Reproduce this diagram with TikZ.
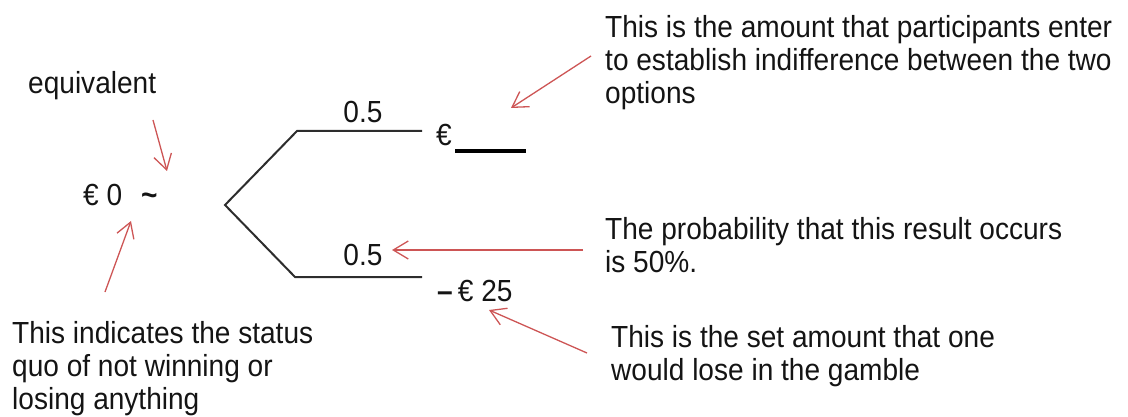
\documentclass[tikz,border=0pt]{standalone}
\usepackage{fontspec}
\setmainfont[FakeStretch=0.92]{Liberation Sans}
\usetikzlibrary{arrows.meta}
\definecolor{annred}{RGB}{205,85,85}
\definecolor{treegray}{RGB}{45,45,45}
\definecolor{txtblack}{RGB}{20,20,20}
\begin{document}
\begin{tikzpicture}[x=1pt,y=-1pt,
 txt/.style={font=\fontsize{30.5}{33}\selectfont, inner sep=0pt, align=left, text=txtblack},
 lbl/.style={font=\fontsize{30.5}{33}\selectfont, inner sep=0pt, text=txtblack},
 annarrow/.style={draw=annred, line width=1.3pt, -{Straight Barb[length=15pt,width=18pt]}},
 branch/.style={draw=treegray, line width=2pt},
 blank/.style={draw=black, line width=3.5pt},
]
\useasboundingbox (0,0) rectangle (1128,417);

% left side
\node[txt, anchor=base west] (equiv) at (28,94) {equivalent};
\node[lbl, anchor=base west] (zero) at (83,206) {€ 0};
\node[lbl, anchor=base west] (tilde) at (141,206) {\textbf{\textasciitilde}};

% tree
\coordinate (root) at (225,205);
\coordinate (ukink) at (297,131);
\coordinate (uend) at (422,131);
\coordinate (lkink) at (295,277);
\coordinate (lend) at (422,277);
\draw[branch] (uend) -- (ukink) -- (root) -- (lkink) -- (lend);

\node[lbl, anchor=base] (pup) at (363,123) {0.5};
\node[lbl, anchor=base] (plow) at (363,265) {0.5};
\node[lbl, anchor=base west] (euro) at (436,146) {€};
\coordinate (blankA) at (455,151);
\coordinate (blankB) at (526,151);
\draw[blank] (blankA) -- (blankB);
\node[lbl, anchor=base west] (loss) at (437,301) {\textbf{–}\,€ 25};

% annotations
\node[txt, anchor=north west] (amt) at (605,15) {This is the amount that participants enter\\to establish indifference between the two\\options};
\node[txt, anchor=north west] (prob) at (605,217) {The probability that this result occurs\\is 50\%.};
\node[txt, anchor=north west] (set) at (611,325) {This is the set amount that one\\would lose in the gamble};
\node[txt, anchor=north west] (quo) at (12,321) {This indicates the status\\quo of not winning or\\losing anything};

% arrows
\coordinate (a1s) at (591,56); \coordinate (a1e) at (511,108);
\coordinate (a2s) at (583,250); \coordinate (a2e) at (392,250);
\coordinate (a3s) at (587,353); \coordinate (a3e) at (489,310);
\coordinate (a4s) at (153,120); \coordinate (a4e) at (167,171);
\coordinate (a5s) at (105,292); \coordinate (a5e) at (131,221);
\draw[annarrow] (a1s) -- (a1e);
\draw[annarrow] (a2s) -- (a2e);
\draw[annarrow] (a3s) -- (a3e);
\draw[annarrow] (a4s) -- (a4e);
\draw[annarrow] (a5s) -- (a5e);
\end{tikzpicture}
\end{document}
